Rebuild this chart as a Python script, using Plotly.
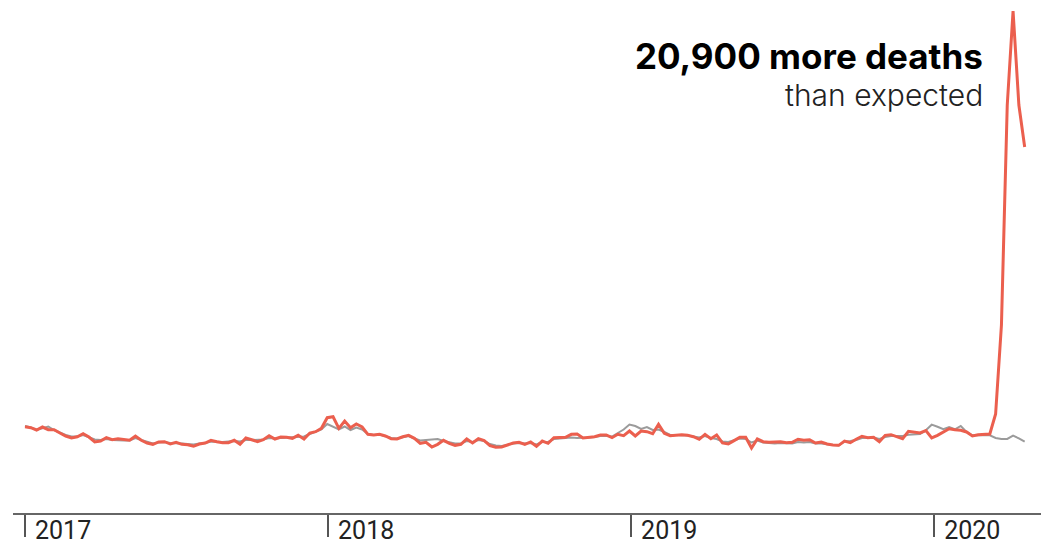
import pandas as pd
import plotly.graph_objects as go

# Weekly deaths, weeks starting 2017-01-01
start_date = "2017-01-01"

actual_deaths = [
    1182, 1169, 1137, 1178, 1141, 1141, 1096, 1055, 1028, 1045,
    1086, 1041, 973, 986, 1032, 1004, 1018, 1004, 996, 1055,
    996, 959, 941, 973, 977, 945, 969, 941, 936, 914,
    945, 959, 996, 977, 963, 963, 996, 941, 1028, 1004,
    977, 1004, 1059, 1014, 1041, 1037, 1023, 1064, 1014, 1096,
    1114, 1160, 1306, 1319, 1160, 1260, 1169, 1219, 1178, 1078,
    1069, 1078, 1055, 1018, 1014, 1045, 1064, 1023, 955, 969,
    904, 941, 996, 955, 927, 941, 1014, 959, 1018, 991,
    922, 900, 904, 932, 959, 969, 941, 973, 914, 986,
    955, 1032, 1032, 1037, 1078, 1082, 1028, 1037, 1045, 1069,
    1069, 1032, 1078, 1059, 1123, 1055, 1123, 1114, 1086, 1215,
    1092, 1059, 1064, 1073, 1064, 1045, 1010, 1078, 1018, 1069,
    959, 945, 991, 1037, 1037, 891, 1014, 977, 969, 973,
    977, 963, 969, 1010, 996, 1004, 959, 973, 945, 932,
    927, 986, 963, 1010, 1051, 1032, 1037, 977, 1064, 1073,
    1045, 1018, 1119, 1110, 1096, 1128, 1028, 1064, 1110, 1155,
    1141, 1133, 1110, 1055, 1073, 1073, 1082, 1356, 2576, 5590,
    6877, 5590, 5014,
]

expected_deaths = [
    1192, 1171, 1137, 1165, 1185, 1137, 1103, 1069, 1048, 1048,
    1069, 1041, 1007, 1000, 1014, 1000, 993, 993, 993, 1028,
    1000, 973, 952, 966, 973, 959, 959, 952, 945, 938,
    952, 959, 980, 973, 973, 980, 986, 980, 1000, 1000,
    1000, 1007, 1028, 1021, 1028, 1034, 1034, 1048, 1048, 1082,
    1110, 1144, 1219, 1185, 1144, 1185, 1137, 1171, 1144, 1082,
    1069, 1075, 1055, 1028, 1021, 1041, 1055, 1021, 993, 1000,
    1007, 1014, 986, 966, 952, 952, 986, 973, 1000, 986,
    945, 925, 918, 932, 952, 959, 952, 959, 938, 973,
    973, 1014, 1021, 1021, 1034, 1028, 1028, 1034, 1041, 1055,
    1055, 1048, 1096, 1144, 1212, 1192, 1151, 1178, 1137, 1144,
    1110, 1069, 1069, 1069, 1062, 1048, 1034, 1055, 1028, 1014,
    980, 973, 993, 1021, 1014, 966, 993, 966, 959, 952,
    959, 952, 952, 973, 966, 973, 952, 952, 938, 932,
    925, 980, 986, 1000, 1028, 1034, 1034, 1014, 1041, 1055,
    1055, 1055, 1073, 1078, 1082, 1133, 1210, 1182, 1147, 1178,
    1147, 1192, 1110, 1064, 1064, 1064, 1064, 1028, 1014, 1014,
    1059, 1023, 977,
]

year_ticks = ["2017-01-01", "2018-01-01", "2019-01-01", "2020-01-01"]
year_labels = ["2017", "2018", "2019", "2020"]

headline = "20,900 more deaths"
subline = "than expected"

weeks = pd.date_range(start_date, periods=len(actual_deaths), freq="7D")

fig = go.Figure()
fig.add_trace(go.Scatter(
    x=weeks, y=expected_deaths, mode="lines",
    line=dict(color="#9b9b9b", width=2), hoverinfo="skip", showlegend=False,
))
fig.add_trace(go.Scatter(
    x=weeks, y=actual_deaths, mode="lines",
    line=dict(color="#eb5f4e", width=3), hoverinfo="skip", showlegend=False,
))

fig.update_layout(
    width=1050, height=549,
    margin=dict(l=13, r=9, t=5, b=36),
    paper_bgcolor="white", plot_bgcolor="white",
    showlegend=False,
    xaxis=dict(
        type="date",
        range=["2016-12-17 13:00", "2020-05-08 15:36"],
        automargin=False,
        showgrid=False, zeroline=False,
        showline=True, linecolor="#666666", linewidth=2,
        ticks="outside", ticklen=22, tickwidth=2, tickcolor="#555555",
        tickvals=year_ticks, ticktext=year_labels,
        ticklabelposition="outside right",
        ticklabelstandoff=-6,
        ticklabelshift=8,
        tickfont=dict(family="Roboto", size=25, color="#222222"),
    ),
    yaxis=dict(
        range=[0, 6960], visible=False, showgrid=False, zeroline=False,
        automargin=False,
    ),
    annotations=[
        dict(
            xref="paper", yref="paper", x=0.9455, y=0.8996,
            xanchor="right", yanchor="middle",
            text="<b>" + headline + "</b>", showarrow=False,
            font=dict(family="Inter", size=35, color="#000000", weight=800),
        ),
        dict(
            xref="paper", yref="paper", x=0.9455, y=0.823,
            xanchor="right", yanchor="middle",
            text=subline, showarrow=False,
            font=dict(family="Inter", size=30, color="#222222", weight=300),
        ),
    ],
)

fig.write_html(
    "out.html",
    config={"displayModeBar": False, "staticPlot": True},
    post_script="document.body.style.margin='0';document.body.style.overflow='hidden';",
)
